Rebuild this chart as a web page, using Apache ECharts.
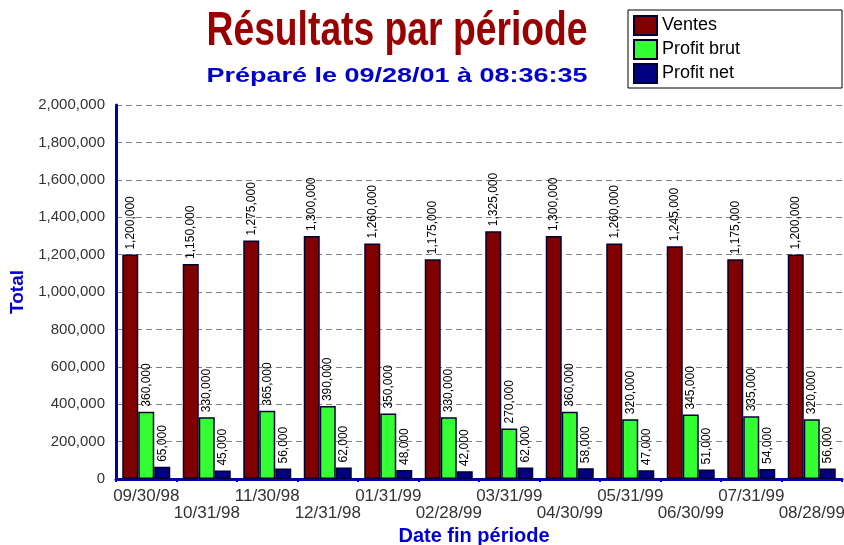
<!DOCTYPE html>
<html>
<head>
<meta charset="utf-8">
<script src="https://cdn.jsdelivr.net/npm/echarts@6/dist/echarts.min.js"></script>
<style>
  html, body { margin: 0; padding: 0; background: #fff; }
  #chart { width: 844px; height: 545px; }
</style>
</head>
<body>
<div id="chart"></div>
<script>
const periods = ['09/30/98', '10/31/98', '11/30/98', '12/31/98', '01/31/99', '02/28/99',
  '03/31/99', '04/30/99', '05/31/99', '06/30/99', '07/31/99', '08/28/99']
const ventes = [1200000, 1150000, 1275000, 1300000, 1260000, 1175000, 1325000, 1300000, 1260000, 1245000, 1175000, 1200000]
const profitBrut = [360000, 330000, 365000, 390000, 350000, 330000, 270000, 360000, 320000, 345000, 335000, 320000]
const profitNet = [65000, 45000, 56000, 62000, 48000, 42000, 62000, 58000, 47000, 51000, 54000, 56000]

const titleText = 'Résultats par période'
const subText = 'Préparé le 09/28/01 à 08:36:35'

const font = 'Arial, "Liberation Sans", sans-serif'
const fmt = (v) => Number(v).toLocaleString('en-US')

// the original title is a squeezed bold face, so stretch text to the measured width
function scaleFor(text, css, target) {
  const ctx = document.createElement('canvas').getContext('2d')
  ctx.font = css
  return target / ctx.measureText(text).width
}

const chart = echarts.init(document.getElementById('chart'), null, { renderer: 'canvas' })

function barSeries(name, data, color) {
  return {
    name,
    type: 'bar',
    data,
    barWidth: 16,
    barGap: '0%',
    itemStyle: { color, borderColor: '#000033', borderWidth: 1.5 },
    label: {
      show: true,
      position: 'top',
      rotate: 90,
      align: 'left',
      verticalAlign: 'middle',
      distance: 5,
      fontSize: 12,
      fontFamily: font,
      color: '#000',
      formatter: (p) => fmt(p.value)
    }
  }
}

const titleCss = 'bold 48px Arial, "Liberation Sans", sans-serif'
const subCss = 'bold 21px Arial, "Liberation Sans", sans-serif'

chart.setOption({
  backgroundColor: '#fff',
  animation: false,
  textStyle: { fontFamily: font },
  graphic: [
    {
      type: 'text',
      x: 397, y: 56,
      scaleX: scaleFor(titleText, titleCss, 381),
      style: {
        text: titleText,
        font: titleCss,
        fill: '#990000',
        align: 'center',
        verticalAlign: 'bottom'
      }
    },
    {
      type: 'text',
      x: 397, y: 87,
      scaleX: scaleFor(subText, subCss, 381),
      style: {
        text: subText,
        font: subCss,
        fill: '#0000cc',
        align: 'center',
        verticalAlign: 'bottom'
      }
    }
  ],
  legend: {
    orient: 'vertical',
    left: 628,
    top: 10,
    padding: [5, 102, 4, 5],
    itemGap: 3,
    itemWidth: 23,
    itemHeight: 19,
    icon: 'rect',
    borderColor: '#000',
    borderWidth: 1,
    textStyle: { fontSize: 18, color: '#000', fontFamily: font },
    data: ['Ventes', 'Profit brut', 'Profit net']
  },
  grid: { left: 116, right: 2, top: 105, bottom: 66, containLabel: false, outerBoundsMode: 'none' },
  xAxis: {
    type: 'category',
    data: periods,
    name: 'Date fin période',
    nameLocation: 'middle',
    nameGap: 44,
    nameTextStyle: { color: '#0000cc', fontSize: 20, fontWeight: 'bold', padding: [0, 10, 0, 0] },
    axisLine: { lineStyle: { color: '#0000aa', width: 3 } },
    axisTick: { show: true, length: 3, lineStyle: { color: '#0000aa', width: 2 } },
    axisLabel: {
      interval: 0,
      margin: 9,
      fontSize: 17,
      lineHeight: 17,
      color: '#333',
      formatter: (v, i) => (i % 2 ? '\n' + v : v)
    }
  },
  yAxis: {
    type: 'value',
    min: 0,
    max: 2000000,
    interval: 200000,
    name: 'Total',
    nameLocation: 'middle',
    nameGap: 86,
    nameTextStyle: { color: '#0000cc', fontSize: 19, fontWeight: 'bold' },
    axisLine: { show: true, lineStyle: { color: '#0000aa', width: 3 } },
    axisTick: { show: false },
    axisLabel: { margin: 11, fontSize: 15, color: '#333', formatter: fmt },
    splitLine: { lineStyle: { color: '#808080', type: [6, 4], width: 1 } }
  },
  series: [
    barSeries('Ventes', ventes, '#800000'),
    barSeries('Profit brut', profitBrut, '#33ff33'),
    barSeries('Profit net', profitNet, '#000080')
  ]
})
</script>
</body>
</html>
